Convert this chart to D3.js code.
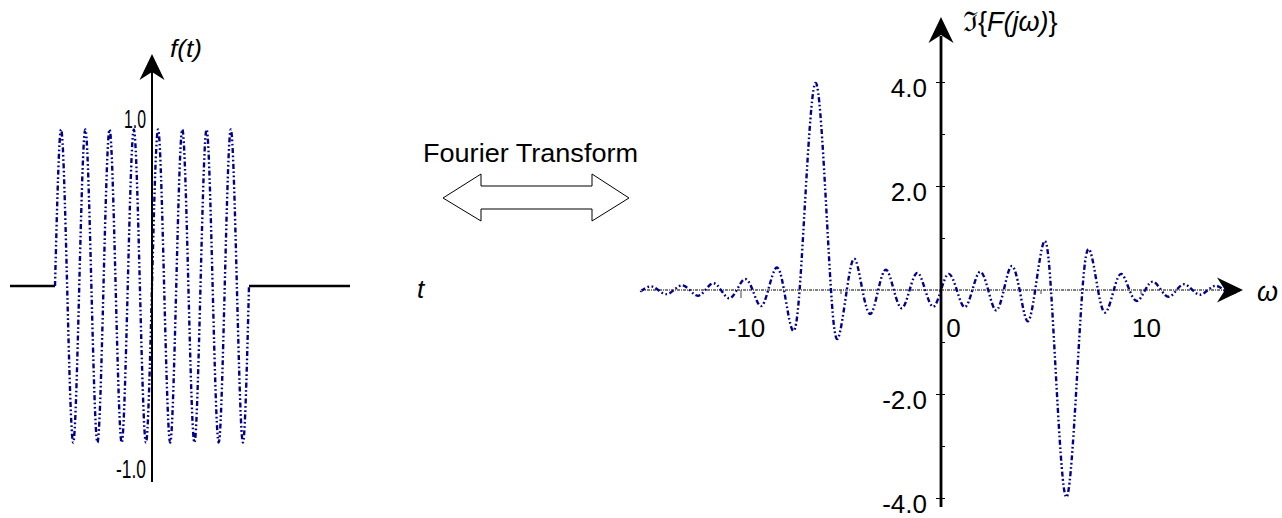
<!DOCTYPE html>
<html>
<head>
<meta charset="utf-8">
<script src="https://cdn.jsdelivr.net/npm/d3@7"></script>
<style>
  body { margin: 0; background: #fff; }
  text { font-family: "Liberation Sans", Arial, sans-serif; fill: #000; }
</style>
</head>
<body>
<div id="chart"></div>
<script>
// time signal f(t): knots at quarter periods
var tKnots = [-4, -3.75, -3.5, -3.25, -3, -2.75, -2.5, -2.25, -2, -1.75, -1.5, -1.25, -1, -0.75, -0.5, -0.25,
              0, 0.25, 0.5, 0.75, 1, 1.25, 1.5, 1.75, 2, 2.25, 2.5, 2.75, 3, 3.25, 3.5, 3.75, 4];
var fKnots = [0, 1, 0, -1, 0, 1, 0, -1, 0, 1, 0, -1, 0, 1, 0, -1,
              0, 1, 0, -1, 0, 1, 0, -1, 0, 1, 0, -1, 0, 1, 0, -1, 0];
var fTicks = [-1, 1];

// spectrum Im{F(jw)}: zero crossings and extrema
var wKnots = [-15, -14.92, -14.53, -14.14, -13.74, -13.35, -12.96, -12.57, -12.17, -11.78,
              -11.39, -11.0, -10.6, -10.21, -9.81, -9.42, -9.02, -8.64, -8.23, -7.85,
              -7.43, -7.07, -6.68, -6.28, -5.89, -5.5, -5.15, -4.71, -4.32, -3.93,
              -3.53, -3.14, -2.75, -2.36, -1.96, -1.57, -1.18, -0.79, -0.39, 0,
              0.39, 0.79, 1.18, 1.57, 1.96, 2.36, 2.75, 3.14, 3.53, 3.93,
              4.32, 4.71, 5.15, 5.5, 5.89, 6.28, 6.68, 7.07, 7.43, 7.85,
              8.23, 8.64, 9.02, 9.42, 9.81, 10.21, 10.6, 11.0, 11.39, 11.78,
              12.17, 12.57, 12.96, 13.35, 13.74, 14.14, 14.53, 14.92, 15];
var imKnots = [-0.02, 0, 0.07, 0, -0.08, 0, 0.09, 0, -0.11, 0,
               0.13, 0, -0.16, 0, 0.21, 0, -0.31, 0, 0.43, 0,
               -0.77, 0, 2.45, 3.98, 2.6, 0, -0.93, 0, 0.6, 0,
               -0.46, 0, 0.39, 0, -0.35, 0, 0.33, 0, -0.32, 0,
               0.31, 0, -0.33, 0, 0.35, 0, -0.39, 0, 0.46, 0,
               -0.6, 0, 0.93, 0, -2.6, -3.98, -2.45, 0, 0.77, 0,
               -0.43, 0, 0.31, 0, -0.21, 0, 0.16, 0, -0.13, 0,
               0.11, 0, -0.09, 0, 0.08, 0, -0.07, 0, 0.02];
var imTicks = [-4, -2, 2, 4];
var imMinor = [-3, -1, 1, 3];
var wTicks = [-10, 0, 10];
var wMinor = [-10, -5, 5, 10];

var curveColor = "#00008c";
var curveDash = "5,2.5,1.7,2.5,1.7,2.5";

var svg = d3.select("#chart").append("svg")
  .attr("width", 1282)
  .attr("height", 518);

svg.append("rect").attr("width", 1282).attr("height", 518).attr("fill", "#fff");

// arrow head pointing along (dx, dy) with its tip at (x, y)
function arrowHead(x, y, dx, dy) {
  var len = 26, half = 12.5, notch = 18;
  var px = -dy, py = dx;
  var p = d3.path();
  p.moveTo(x, y);
  p.lineTo(x - dx * len + px * half, y - dy * len + py * half);
  p.lineTo(x - dx * notch, y - dy * notch);
  p.lineTo(x - dx * len - px * half, y - dy * len - py * half);
  p.closePath();
  svg.append("path").attr("d", p.toString()).attr("fill", "#000");
}

// ---------- left panel: f(t) ----------
var xL = d3.scaleLinear().domain([-4, 4]).range([55, 249]);
var yL = d3.scaleLinear().domain([-1, 1]).range([442.5, 129.5]);

var left = svg.append("g");

left.append("line")
  .attr("x1", 10).attr("x2", xL(-4))
  .attr("y1", yL(0)).attr("y2", yL(0))
  .attr("stroke", "#000").attr("stroke-width", 2.5);
left.append("line")
  .attr("x1", xL(4)).attr("x2", 350)
  .attr("y1", yL(0)).attr("y2", yL(0))
  .attr("stroke", "#000").attr("stroke-width", 2.5);

var lineL = d3.line()
  .x(function(d) { return xL(d[0]); })
  .y(function(d) { return yL(d[1]); })
  .curve(d3.curveNatural);

left.append("path")
  .datum(d3.zip(tKnots, fKnots))
  .attr("d", lineL)
  .attr("fill", "none")
  .attr("stroke", curveColor)
  .attr("stroke-width", 2.4)
  .attr("stroke-dasharray", curveDash);

// vertical axis
left.append("line")
  .attr("x1", xL(0)).attr("x2", xL(0))
  .attr("y1", 482).attr("y2", 70)
  .attr("stroke", "#000").attr("stroke-width", 2);
arrowHead(xL(0), 54, 0, -1);

var yAxisL = d3.axisLeft(yL)
  .tickValues(fTicks)
  .tickSize(0)
  .tickFormat(function(d) { return d.toFixed(1); });

var gL = left.append("g")
  .attr("transform", "translate(" + xL(0) + ",0)")
  .call(yAxisL);
gL.select(".domain").remove();
gL.selectAll("text")
  .attr("x", -6)
  .attr("dy", function(d) { return d > 0 ? -2.5 : 34.5; })
  .attr("font-size", 25)
  .attr("font-family", "Liberation Sans")
  .attr("fill", "#111")
  .attr("textLength", function(d) { return d > 0 ? 22 : 30; })
  .attr("lengthAdjust", "spacingAndGlyphs");

left.append("text")
  .attr("x", 170).attr("y", 57)
  .attr("font-size", 24)
  .attr("font-style", "italic")
  .attr("textLength", 32)
  .attr("lengthAdjust", "spacingAndGlyphs")
  .text("f(t)");

// ---------- middle ----------
svg.append("text")
  .attr("x", 423).attr("y", 162)
  .attr("font-size", 26)
  .attr("textLength", 215)
  .attr("lengthAdjust", "spacingAndGlyphs")
  .text("Fourier Transform");

svg.append("path")
  .attr("d", "M443,198 L481,174 L481,186 L592,186 L592,174 L629,198 L592,221 L592,209 L481,209 L481,221 Z")
  .attr("fill", "#fff")
  .attr("stroke", "#000")
  .attr("stroke-width", 1);

svg.append("text")
  .attr("x", 417).attr("y", 298)
  .attr("font-size", 26)
  .attr("font-style", "italic")
  .text("t");

// ---------- right panel: Im{F(jw)} ----------
var xR = d3.scaleLinear().domain([-15, 15]).range([641, 1241]);
var yR = d3.scaleLinear().domain([-4, 4]).range([498, 82]);

var right = svg.append("g");

// w axis (dotted)
right.append("line")
  .attr("x1", xR(-15)).attr("x2", 1226)
  .attr("y1", yR(0)).attr("y2", yR(0))
  .attr("stroke", "#000").attr("stroke-width", 1)
  .attr("stroke-dasharray", "3,1,1,1");

right.selectAll(".wminor")
  .data(wMinor)
  .enter().append("line")
  .attr("class", "wminor")
  .attr("x1", function(d) { return xR(d); })
  .attr("x2", function(d) { return xR(d); })
  .attr("y1", yR(0))
  .attr("y2", function(d) { return yR(0) + (d === -10 ? 8 : 4); })
  .attr("stroke", "#444").attr("stroke-width", 1);

var xAxisR = d3.axisBottom(xR)
  .tickValues(wTicks)
  .tickSize(0)
  .tickFormat(function(d) { return String(d); });

var gxR = right.append("g")
  .attr("transform", "translate(0," + yR(0) + ")")
  .call(xAxisR);
gxR.select(".domain").remove();
gxR.selectAll("text")
  .attr("y", 47)
  .attr("dy", 0)
  .attr("dx", function(d) { return d === 0 ? 12 : 5; })
  .attr("font-size", 26)
  .attr("font-family", "Liberation Sans")
  .attr("fill", "#000");

var lineR = d3.line()
  .x(function(d) { return xR(d[0]); })
  .y(function(d) { return yR(d[1]); })
  .curve(d3.curveNatural);

right.append("path")
  .datum(d3.zip(wKnots, imKnots))
  .attr("d", lineR)
  .attr("fill", "none")
  .attr("stroke", curveColor)
  .attr("stroke-width", 2.4)
  .attr("stroke-dasharray", curveDash);

// vertical axis
right.append("line")
  .attr("x1", xR(0)).attr("x2", xR(0))
  .attr("y1", 507).attr("y2", 36)
  .attr("stroke", "#000").attr("stroke-width", 2.8);

var yAxisR = d3.axisLeft(yR)
  .tickValues(imTicks)
  .tickSize(5)
  .tickFormat(function(d) { return d.toFixed(1); });

var gyR = right.append("g")
  .attr("transform", "translate(" + xR(0) + ",0)")
  .call(yAxisR);
gyR.select(".domain").remove();
gyR.selectAll(".tick line").attr("x1", 4).attr("stroke", "#000");
gyR.selectAll("text")
  .attr("x", -14)
  .attr("dy", 14)
  .attr("font-size", 26)
  .attr("font-family", "Liberation Sans")
  .attr("fill", "#000");

var yMinorR = d3.axisRight(yR)
  .tickValues(imMinor)
  .tickSize(4)
  .tickFormat("");

var gyM = right.append("g")
  .attr("transform", "translate(" + xR(0) + ",0)")
  .call(yMinorR);
gyM.select(".domain").remove();
gyM.selectAll(".tick line").attr("stroke", "#000");

arrowHead(xR(0), 17, 0, -1);
arrowHead(1243, yR(0), 1, 0);

var lab = right.append("text")
  .attr("x", 963).attr("y", 31)
  .attr("font-size", 27);
lab.append("tspan").attr("font-family", "DejaVu Serif").text("\u2111");
lab.append("tspan").text("{");
lab.append("tspan").attr("font-style", "italic").text("F(j\u03c9)");
lab.append("tspan").text("}");

right.append("text")
  .attr("x", 1257).attr("y", 301)
  .attr("font-size", 27)
  .attr("font-family", "Liberation Serif")
  .attr("font-style", "italic")
  .text("\u03c9");
</script>
</body>
</html>
